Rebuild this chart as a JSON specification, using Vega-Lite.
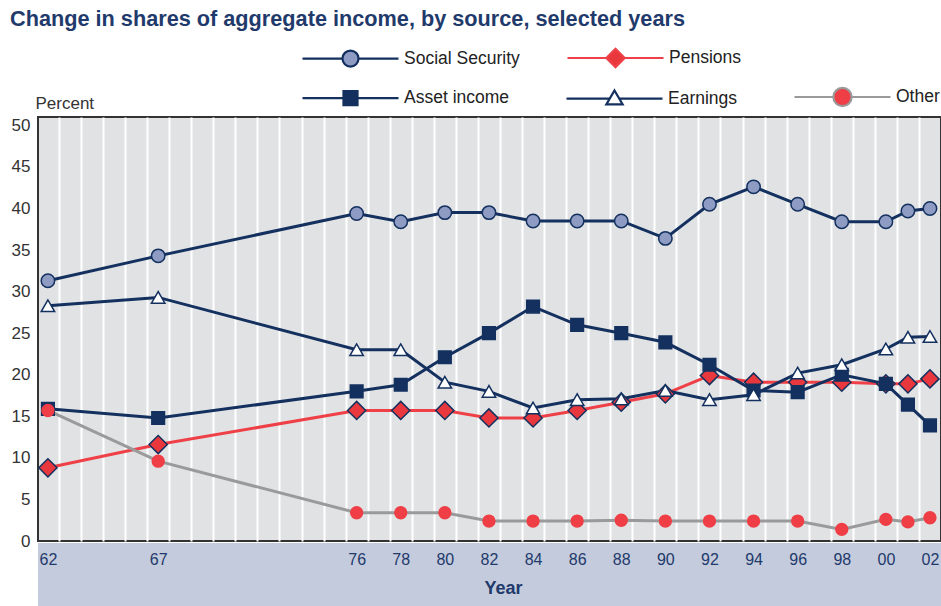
{
  "$schema": "https://vega.github.io/schema/vega-lite/v6.json",
  "autosize": {"type": "none"},
  "padding": {"left": 38, "top": 117, "right": 0, "bottom": 65},
  "width": 903,
  "height": 424,
  "background": "white",
  "title": {
    "text": "Change in shares of aggregate income, by source, selected years",
    "anchor": "start",
    "frame": "group",
    "dx": -28,
    "offset": -23,
    "font": "Liberation Sans",
    "fontSize": 21.7,
    "fontWeight": "bold",
    "color": "#1f3a6b"
  },
  "data": {
    "values": [
      {"year": 1962, "Social Security": 31.3, "Pensions": 8.8, "Asset income": 15.9, "Earnings": 28.3, "Other": 15.7},
      {"year": 1967, "Social Security": 34.3, "Pensions": 11.6, "Asset income": 14.8, "Earnings": 29.3, "Other": 9.6},
      {"year": 1976, "Social Security": 39.4, "Pensions": 15.7, "Asset income": 18.0, "Earnings": 23.0, "Other": 3.4},
      {"year": 1978, "Social Security": 38.4, "Pensions": 15.7, "Asset income": 18.8, "Earnings": 23.0, "Other": 3.4},
      {"year": 1980, "Social Security": 39.5, "Pensions": 15.7, "Asset income": 22.1, "Earnings": 19.1, "Other": 3.4},
      {"year": 1982, "Social Security": 39.5, "Pensions": 14.8, "Asset income": 25.0, "Earnings": 18.0, "Other": 2.4},
      {"year": 1984, "Social Security": 38.5, "Pensions": 14.8, "Asset income": 28.2, "Earnings": 16.0, "Other": 2.4},
      {"year": 1986, "Social Security": 38.5, "Pensions": 15.7, "Asset income": 26.0, "Earnings": 17.0, "Other": 2.4},
      {"year": 1988, "Social Security": 38.5, "Pensions": 16.7, "Asset income": 25.0, "Earnings": 17.1, "Other": 2.5},
      {"year": 1990, "Social Security": 36.4, "Pensions": 17.7, "Asset income": 23.9, "Earnings": 18.1, "Other": 2.4},
      {"year": 1992, "Social Security": 40.5, "Pensions": 19.9, "Asset income": 21.2, "Earnings": 17.0, "Other": 2.4},
      {"year": 1994, "Social Security": 42.6, "Pensions": 19.1, "Asset income": 18.1, "Earnings": 17.6, "Other": 2.4},
      {"year": 1996, "Social Security": 40.5, "Pensions": 19.1, "Asset income": 17.9, "Earnings": 20.2, "Other": 2.4},
      {"year": 1998, "Social Security": 38.4, "Pensions": 19.1, "Asset income": 20.0, "Earnings": 21.2, "Other": 1.4},
      {"year": 2000, "Social Security": 38.4, "Pensions": 18.9, "Asset income": 18.9, "Earnings": 23.1, "Other": 2.6},
      {"year": 2001, "Social Security": 39.7, "Pensions": 18.9, "Asset income": 16.4, "Earnings": 24.5, "Other": 2.3},
      {"year": 2002, "Social Security": 40.0, "Pensions": 19.5, "Asset income": 13.9, "Earnings": 24.6, "Other": 2.8}
    ]
  },
  "transform": [
    {"fold": ["Social Security", "Pensions", "Asset income", "Earnings", "Other"], "as": ["series", "value"]}
  ],
  "resolve": {
    "scale": {"shape": "independent", "fill": "independent", "stroke": "independent"},
    "axis": {"x": "independent"}
  },
  "layer": [
    {
      "mark": {"type": "rect", "color": "#c4cbdd", "clip": false},
      "encoding": {
        "x": {"datum": 1961.55, "type": "quantitative", "scale": {"domain": [1961.55, 2002.5], "nice": false, "zero": false}, "axis": null},
        "x2": {"datum": 2002.5},
        "y": {"datum": -0.25, "type": "quantitative", "scale": {"domain": [0, 51], "nice": false}},
        "y2": {"datum": -8}
      }
    },
    {
      "mark": {"type": "line", "strokeWidth": 3},
      "encoding": {
        "x": {
          "field": "year", "type": "quantitative",
          "scale": {"domain": [1961.55, 2002.5], "nice": false, "zero": false},
          "axis": {
            "orient": "top", "title": null, "labels": false, "ticks": false, "domain": false,
            "grid": true, "gridColor": "white", "gridWidth": 2, "gridOpacity": 1, "zindex": 0,
            "values": [1962.5,1963.5,1964.5,1965.5,1966.5,1967.5,1968.5,1969.5,1970.5,1971.5,1972.5,1973.5,1974.5,1975.5,1976.5,1977.5,1978.5,1979.5,1980.5,1981.5,1982.5,1983.5,1984.5,1985.5,1986.5,1987.5,1988.5,1989.5,1990.5,1991.5,1992.5,1993.5,1994.5,1995.5,1996.5,1997.5,1998.5,1999.5,2000.5,2001.5]
          }
        },
        "y": {
          "field": "value", "type": "quantitative",
          "scale": {"domain": [0, 51], "nice": false},
          "axis": {
            "values": [0,5,10,15,20,25,30,35,40,45,50],
            "ticks": false, "domain": false, "grid": false,
            "labelPadding": 8, "labelFontSize": 17, "labelColor": "#333333", "labelFont": "Liberation Sans",
            "title": "Percent", "titleAngle": 0, "titleAlign": "left", "titleBaseline": "alphabetic",
            "titleX": -3, "titleY": -9, "titleFontWeight": "normal", "titleFontSize": 17,
            "titleColor": "#333333", "titleFont": "Liberation Sans"
          }
        },
        "color": {
          "field": "series", "type": "nominal", "legend": null,
          "scale": {
            "domain": ["Social Security", "Pensions", "Asset income", "Earnings", "Other"],
            "range": ["#13305f", "#ef4048", "#13305f", "#13305f", "#9a9a9a"]
          }
        },
        "order": {"field": "year", "type": "quantitative"}
      }
    },
    {
      "mark": {"type": "point", "filled": true, "opacity": 1, "strokeWidth": 1.5},
      "encoding": {
        "x": {
          "field": "year", "type": "quantitative",
          "scale": {"domain": [1961.55, 2002.5], "nice": false, "zero": false},
          "axis": {
            "orient": "bottom", "title": "Year", "grid": false, "ticks": false, "domain": false, "zindex": 1,
            "values": [1962,1967,1976,1978,1980,1982,1984,1986,1988,1990,1992,1994,1996,1998,2000,2002],
            "labelExpr": "slice(toString(datum.value), 2)",
            "labelFont": "Liberation Sans", "labelFontSize": 16, "labelColor": "#1f3a6b", "labelPadding": 10,
            "titleFont": "Liberation Sans", "titleFontSize": 18, "titleFontWeight": "bold", "titleColor": "#1f3a6b",
            "titlePadding": 12, "titleX": 465
          }
        },
        "y": {"field": "value", "type": "quantitative", "scale": {"domain": [0, 51], "nice": false}},
        "shape": {
          "field": "series", "type": "nominal", "legend": null,
          "scale": {
            "domain": ["Social Security", "Pensions", "Asset income", "Earnings", "Other"],
            "range": ["circle", "diamond", "square", "triangle-up", "circle"]
          }
        },
        "fill": {
          "field": "series", "type": "nominal", "legend": null,
          "scale": {
            "domain": ["Social Security", "Pensions", "Asset income", "Earnings", "Other"],
            "range": ["#8e9cc4", "#e8383d", "#13305f", "#ffffff", "#ef3e46"]
          }
        },
        "stroke": {
          "field": "series", "type": "nominal", "legend": null,
          "scale": {
            "domain": ["Social Security", "Pensions", "Asset income", "Earnings", "Other"],
            "range": ["#13305f", "#13305f", "#13305f", "#13305f", "#ef3e46"]
          }
        },
        "size": {
          "field": "series", "type": "nominal", "legend": null,
          "scale": {
            "type": "ordinal",
            "domain": ["Social Security", "Pensions", "Asset income", "Earnings", "Other"],
            "range": [180, 330, 160, 180, 140]
          }
        }
      }
    },
    {
      "transform": [{"filter": {"field": "series", "oneOf": ["Social Security", "Pensions"]}}],
      "mark": {"type": "point", "filled": true, "opacity": 0},
      "encoding": {
        "x": {"field": "year", "type": "quantitative", "scale": {"domain": [1961.55, 2002.5], "nice": false, "zero": false}, "axis": null},
        "y": {"field": "value", "type": "quantitative", "scale": {"domain": [0, 51], "nice": false}},
        "shape": {
          "field": "series", "type": "nominal",
          "scale": {
            "domain": ["Social Security", "Pensions"],
            "range": [
              "M-1,0H-0.167M0.167,0H1M-0.167,0A0.167,0.167,0,1,1,0.167,0A0.167,0.167,0,1,1,-0.167,0Z",
              "M-1,0H-0.19M0.19,0H1M-0.19,0L0,-0.19L0.19,0L0,0.19Z"
            ]
          },
          "legend": {
            "orient": "none", "legendX": 263, "legendY": -109, "direction": "horizontal", "title": null,
            "symbolSize": 9216, "symbolStrokeWidth": 2.2, "symbolOpacity": 1, "labelOffset": 4,
            "columnPadding": 43, "padding": 0, "labelFont": "Liberation Sans", "labelFontSize": 17.5,
            "labelColor": "#222222"
          }
        },
        "fill": {
          "field": "series", "type": "nominal",
          "scale": {"domain": ["Social Security", "Pensions"], "range": ["#8e9cc4", "#e8383d"]}
        },
        "stroke": {
          "field": "series", "type": "nominal",
          "scale": {"domain": ["Social Security", "Pensions"], "range": ["#13305f", "#ef4048"]}
        }
      }
    },
    {
      "transform": [{"filter": {"field": "series", "oneOf": ["Asset income", "Earnings", "Other"]}}],
      "mark": {"type": "point", "filled": true, "opacity": 0},
      "encoding": {
        "x": {"field": "year", "type": "quantitative", "scale": {"domain": [1961.55, 2002.5], "nice": false, "zero": false}, "axis": null},
        "y": {"field": "value", "type": "quantitative", "scale": {"domain": [0, 51], "nice": false}},
        "shape": {
          "field": "series", "type": "nominal",
          "scale": {
            "domain": ["Asset income", "Earnings", "Other"],
            "range": [
              "M-1,0H-0.146M0.146,0H1M-0.146,-0.146H0.146V0.146H-0.146Z",
              "M-1,0H-0.1M0.1,0H1M0,-0.17L0.17,0.12L-0.17,0.12Z",
              "M-1,0H-0.19M0.19,0H1M-0.19,0A0.19,0.19,0,1,1,0.19,0A0.19,0.19,0,1,1,-0.19,0Z"
            ]
          },
          "legend": {
            "orient": "none", "legendX": 263, "legendY": -70, "direction": "horizontal", "title": null,
            "symbolSize": 9216, "symbolStrokeWidth": 2.2, "symbolOpacity": 1, "labelOffset": 4,
            "columnPadding": 52, "padding": 0, "labelFont": "Liberation Sans", "labelFontSize": 17.5,
            "labelColor": "#222222"
          }
        },
        "fill": {
          "field": "series", "type": "nominal",
          "scale": {"domain": ["Asset income", "Earnings", "Other"], "range": ["#13305f", "#ffffff", "#ef3e46"]}
        },
        "stroke": {
          "field": "series", "type": "nominal",
          "scale": {"domain": ["Asset income", "Earnings", "Other"], "range": ["#13305f", "#13305f", "#9a9a9a"]}
        }
      }
    }
  ],
  "config": {
    "view": {"stroke": "#333333", "strokeWidth": 2, "fill": "#e1e2e4"},
    "font": "Liberation Sans"
  }
}
